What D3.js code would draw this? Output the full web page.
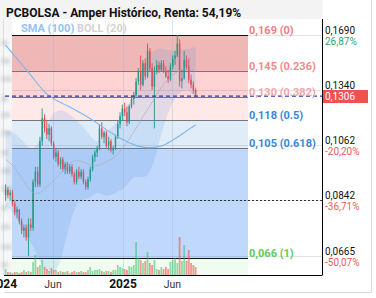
<!DOCTYPE html>
<html>
<head>
<meta charset="utf-8">
<script src="https://cdn.jsdelivr.net/npm/d3@7"></script>
<style>
  body { margin: 0; background: #fff; }
  svg { display: block; font-family: Roboto, "DejaVu Sans", sans-serif; }
</style>
</head>
<body>
<div id="chart"></div>
<script>
var svgWidth = 376;
var svgHeight = 298;

// weekly candles, Jan 2024 -> Aug 2025
var weeks = d3.timeMonday.range(new Date(2024, 0, 8), new Date(2025, 7, 12));

var opens = [0.086,0.088,0.086,0.087,0.083,0.080,0.081,0.077,0.074,0.075,0.072,0.076,0.075,0.091,0.095,0.090,0.108,0.119,0.114,0.111,
  0.114,0.107,0.101,0.103,0.098,0.100,0.096,0.098,0.095,0.097,0.094,0.091,0.095,0.093,0.095,0.091,0.089,0.092,0.096,0.101,
  0.103,0.105,0.114,0.110,0.112,0.106,0.108,0.104,0.105,0.110,0.116,0.120,0.124,0.122,0.117,0.125,0.129,0.131,0.139,0.145,
  0.137,0.150,0.142,0.158,0.147,0.136,0.145,0.149,0.146,0.150,0.145,0.142,0.140,0.148,0.153,0.155,0.163,0.139,0.141,0.152,
  0.148,0.140,0.137,0.134];
var highs = [0.090,0.089,0.088,0.088,0.084,0.082,0.081,0.078,0.076,0.076,0.078,0.078,0.092,0.097,0.097,0.110,0.124,0.121,0.118,0.116,
  0.115,0.108,0.105,0.104,0.101,0.101,0.099,0.099,0.098,0.098,0.095,0.096,0.097,0.096,0.096,0.092,0.093,0.097,0.102,0.104,
  0.106,0.116,0.117,0.113,0.113,0.110,0.109,0.106,0.111,0.118,0.122,0.126,0.127,0.125,0.126,0.131,0.133,0.141,0.147,0.155,
  0.152,0.153,0.163,0.160,0.150,0.148,0.152,0.151,0.152,0.152,0.148,0.146,0.150,0.155,0.158,0.169,0.166,0.146,0.158,0.155,
  0.153,0.143,0.139,0.135];
var lows = [0.084,0.085,0.084,0.082,0.079,0.078,0.076,0.073,0.072,0.071,0.0665,0.074,0.074,0.089,0.089,0.089,0.106,0.112,0.109,0.108,
  0.106,0.100,0.099,0.097,0.096,0.095,0.094,0.094,0.094,0.093,0.090,0.090,0.092,0.092,0.090,0.088,0.088,0.091,0.095,0.099,
  0.101,0.104,0.109,0.107,0.105,0.104,0.103,0.102,0.104,0.109,0.114,0.118,0.120,0.115,0.116,0.124,0.126,0.130,0.137,0.134,
  0.136,0.140,0.141,0.145,0.134,0.114,0.143,0.144,0.145,0.144,0.141,0.138,0.139,0.146,0.149,0.154,0.136,0.135,0.140,0.146,
  0.138,0.135,0.132,0.130];
var closes = [0.088,0.086,0.087,0.083,0.080,0.081,0.077,0.074,0.075,0.072,0.076,0.075,0.091,0.095,0.090,0.108,0.119,0.114,0.111,0.114,
  0.107,0.101,0.103,0.098,0.100,0.096,0.098,0.095,0.097,0.094,0.091,0.095,0.093,0.095,0.091,0.089,0.092,0.096,0.101,0.103,
  0.105,0.114,0.110,0.112,0.106,0.108,0.104,0.105,0.110,0.116,0.120,0.124,0.122,0.117,0.125,0.129,0.131,0.139,0.145,0.137,
  0.150,0.142,0.158,0.147,0.136,0.145,0.149,0.146,0.150,0.145,0.142,0.140,0.148,0.153,0.155,0.163,0.139,0.141,0.152,0.148,
  0.140,0.137,0.134,0.1306];
var volumes = [6,3,3,2,3,3,2,3,5,3,4,3,13,20,8,10,15,8,6,4,
  7,5,5,3,4,3,3,4,2,3,4,3,3,4,3,3,5,8,4,5,
  5,6,4,3,4,4,3,5,5,10,8,7,6,5,9,8,10,33,17,15,
  12,14,23,12,10,15,6,5,8,6,8,6,13,15,17,12,38,14,30,14,
  25,12,10,8];

// indicators read every 4 weeks
var indIdx = [0,4,8,12,16,20,24,28,32,36,40,44,48,52,56,60,64,68,72,76,80,83];
var smaValues = [0.162,0.1547,0.1477,0.141,0.134,0.1296,0.1271,0.1248,0.1222,0.1196,0.1166,0.1133,0.1106,0.1083,0.1063,0.1052,0.1050,0.1055,0.1079,0.1104,0.1136,0.1156];
var bollUpper = [0.113,0.112,0.108,0.102,0.112,0.121,0.124,0.121,0.117,0.112,0.106,0.113,0.115,0.124,0.130,0.148,0.159,0.160,0.158,0.159,0.159,0.161];
var bollMid   = [0.100,0.097,0.091,0.086,0.087,0.091,0.094,0.099,0.100,0.098,0.097,0.099,0.101,0.106,0.112,0.120,0.127,0.136,0.142,0.146,0.147,0.145];
var bollLower = [0.082,0.080,0.073,0.070,0.063,0.061,0.064,0.077,0.085,0.084,0.088,0.085,0.087,0.088,0.094,0.092,0.095,0.112,0.126,0.133,0.135,0.129];

// fibonacci retracement
var fibValues = [0.169, 0.145, 0.130, 0.118, 0.105, 0.066];
var fibRatios = ["0", "0.236", "0.382", "0.5", "0.618", "1"];
var fibZoneColors = ["#f0b7b7", "#fdd3d3", "#ffe8e8", "#e1ecf9", "#c0d8fb"];
var fibTextColors = ["#f07e7e", "#f3898a", "#f5a6a6", "#3b86d9", "#3b86d9", "#5ccc5c"];

// right axis
var axisValues = [0.1690, 0.1340, 0.1062, 0.0842, 0.0665];
var axisPct = ["26,87%", "", "-20,20%", "-36,71%", "-50,07%"];
var lastPrice = 0.1306;
var dottedLevel = 0.0842;

var monthTicks = [new Date(2024, 0, 1), new Date(2024, 5, 1), new Date(2025, 0, 1), new Date(2025, 5, 1)];
var monthLabels = ["2024", "Jun", "2025", "Jun"];
var monthBold = [true, false, true, false];

var locale = d3.formatLocale({decimal: ",", thousands: ".", grouping: [3], currency: ["", "€"]});
var fmt4 = locale.format(".4f");
var fmt3 = locale.format(".3f");

var plotLeft = 12, fibRight = 248, axisX = 322.5, plotTop = 19, plotBottom = 275;

var svg = d3.select("#chart").append("svg")
  .attr("width", svgWidth)
  .attr("height", svgHeight);

var defs = svg.append("defs");
defs.append("filter").attr("id", "blur")
  .append("feGaussianBlur").attr("stdDeviation", 1.4);

var x = d3.scaleTime()
  .domain([new Date(2024, 0, 1), new Date(2025, 5, 1)])
  .range([3.3, 172.4]);
var y = d3.scaleLog()
  .domain([0.066, 0.169])
  .range([258, 35]);
var yVol = d3.scaleLinear().domain([0, 40]).range([plotBottom, plotBottom - 40]);

// frame + title bar
svg.append("rect").attr("x", 0).attr("y", 0).attr("width", axisX).attr("height", plotTop).attr("fill", "#f3f3f3");
svg.append("line").attr("x1", 371.5).attr("x2", 371.5).attr("y1", 0).attr("y2", 292.5).attr("stroke", "#dcdcdc");
svg.append("line").attr("x1", 4).attr("x2", 371.5).attr("y1", 292.5).attr("y2", 292.5).attr("stroke", "#dcdcdc");

// blurred left strip
svg.append("rect").attr("x", 0).attr("y", plotTop).attr("width", plotLeft).attr("height", plotBottom - plotTop).attr("fill", "#f6f6f6");
var stripY = [40, 58, 76, 96, 112, 130, 150, 168, 186, 205, 224, 244, 262];
svg.append("g").attr("filter", "url(#blur)")
  .selectAll("rect").data(stripY).enter().append("rect")
  .attr("x", 1).attr("y", d => d).attr("width", (d, i) => 7 + (i % 3) * 2).attr("height", 6)
  .attr("fill", "#dedede");

// fib zones
var zones = [];
for (var i = 0; i < fibValues.length - 1; i++) {
  zones.push({top: fibValues[i], bottom: fibValues[i + 1], color: fibZoneColors[i]});
}
svg.append("g").selectAll("rect").data(zones).enter().append("rect")
  .attr("x", plotLeft).attr("width", fibRight - plotLeft)
  .attr("y", d => y(d.top)).attr("height", d => y(d.bottom) - y(d.top))
  .attr("fill", d => d.color);
svg.append("rect").attr("x", plotLeft).attr("width", fibRight - plotLeft)
  .attr("y", y(0.066)).attr("height", plotBottom - y(0.066)).attr("fill", "#effcef");

// vertical grid
svg.append("g").selectAll("line").data(monthTicks).enter().append("line")
  .attr("x1", d => Math.round(x(d)) + 0.5).attr("x2", d => Math.round(x(d)) + 0.5)
  .attr("y1", plotTop).attr("y2", plotBottom)
  .attr("stroke", "#9fb4cc").attr("stroke-opacity", 0.35);

// horizontal grid at axis ticks
svg.append("g").selectAll("line").data(axisValues).enter().append("line")
  .attr("x1", plotLeft).attr("x2", axisX)
  .attr("y1", d => Math.round(y(d)) + 0.5).attr("y2", d => Math.round(y(d)) + 0.5)
  .attr("stroke", "#000").attr("stroke-opacity", 0.1);

// fib lines
svg.append("g").selectAll("line").data(fibValues).enter().append("line")
  .attr("x1", plotLeft).attr("x2", fibRight)
  .attr("y1", d => Math.round(y(d)) + 0.5).attr("y2", d => Math.round(y(d)) + 0.5)
  .attr("stroke", (d, i) => (i === 0 || i === fibValues.length - 1) ? "#111" : "#777");

// volume
var candles = weeks.map((d, i) => ({date: d, o: opens[i], h: highs[i], l: lows[i], c: closes[i], v: volumes[i]}));
svg.append("g").selectAll("rect").data(candles).enter().append("rect")
  .attr("x", d => x(d.date) - 0.9).attr("width", 1.8)
  .attr("y", d => yVol(d.v)).attr("height", d => plotBottom - yVol(d.v))
  .attr("fill", d => d.c >= d.o ? "rgba(38,190,100,0.5)" : "rgba(239,83,80,0.6)");

// candles
var candleG = svg.append("g").selectAll("g").data(candles).enter().append("g");
candleG.append("line")
  .attr("x1", d => x(d.date)).attr("x2", d => x(d.date))
  .attr("y1", d => y(d.h)).attr("y2", d => y(d.l))
  .attr("stroke", d => d.c >= d.o ? "#1f9a78" : "#f04545").attr("stroke-width", 0.9);
candleG.append("rect")
  .attr("x", d => x(d.date) - 0.7).attr("width", 1.4)
  .attr("y", d => y(Math.max(d.o, d.c)))
  .attr("height", d => Math.max(1, Math.abs(y(d.o) - y(d.c))))
  .attr("fill", d => d.c >= d.o ? "#1f9a78" : "#f04545");

// bollinger band on top
var bandPts = indIdx.map((k, i) => ({date: weeks[k], up: bollUpper[i], mid: bollMid[i], lo: bollLower[i], sma: smaValues[i]}));
svg.append("path").datum(bandPts)
  .attr("d", d3.area().curve(d3.curveBasis).x(d => x(d.date)).y0(d => y(d.lo)).y1(d => y(d.up)))
  .attr("fill", "rgb(60,140,230)").attr("fill-opacity", 0.15);
svg.append("path").datum(bandPts)
  .attr("d", d3.line().curve(d3.curveBasis).x(d => x(d.date)).y(d => y(d.mid)))
  .attr("fill", "none").attr("stroke", "#b0a8a8").attr("stroke-opacity", 0.6);
svg.append("path").datum(bandPts)
  .attr("d", d3.line().curve(d3.curveBasis).x(d => x(d.date)).y(d => y(d.sma)))
  .attr("fill", "none").attr("stroke", "#7ab8ef").attr("stroke-width", 1.1);

// price lines
svg.append("line").attr("x1", 5).attr("x2", axisX)
  .attr("y1", y(lastPrice)).attr("y2", y(lastPrice))
  .attr("stroke", "#3333b8").attr("stroke-width", 1.4).attr("stroke-dasharray", "4,3");
svg.append("line").attr("x1", plotLeft).attr("x2", axisX)
  .attr("y1", Math.round(y(dottedLevel)) + 0.5).attr("y2", Math.round(y(dottedLevel)) + 0.5)
  .attr("stroke", "#333").attr("stroke-dasharray", "2,2");

// fib labels
svg.append("g").selectAll("text").data(fibValues).enter().append("text")
  .attr("x", 249).attr("y", d => Math.round(y(d)) - 1.5)
  .attr("font-size", "11px").attr("font-weight", "bold")
  .attr("fill", (d, i) => fibTextColors[i])
  .text((d, i) => fmt3(d) + " (" + fibRatios[i] + ")");

// axes
svg.append("line").attr("x1", axisX).attr("x2", axisX).attr("y1", plotTop).attr("y2", plotBottom).attr("stroke", "#000");
svg.append("line").attr("x1", 4).attr("x2", axisX).attr("y1", plotBottom + 0.5).attr("y2", plotBottom + 0.5).attr("stroke", "#000");

var axisG = svg.append("g");
axisG.selectAll("text.val").data(axisValues).enter().append("text").attr("class", "val")
  .attr("x", 325).attr("y", d => Math.round(y(d)) - 1)
  .attr("font-size", "10px").attr("fill", "#111")
  .text(d => fmt4(d));
axisG.selectAll("text.pct").data(axisValues).enter().append("text").attr("class", "pct")
  .attr("x", 325).attr("y", d => Math.round(y(d)) + 10)
  .attr("font-size", "10px")
  .attr("fill", (d, i) => axisPct[i].charAt(0) === "-" ? "#f05a5a" : "#2aa57a")
  .text((d, i) => axisPct[i]);

svg.append("rect").attr("x", 323).attr("y", Math.round(y(lastPrice)) - 6).attr("width", 45).attr("height", 13).attr("fill", "#f0524f");
svg.append("text").attr("x", 325).attr("y", Math.round(y(lastPrice)) + 4)
  .attr("font-size", "10px").attr("fill", "#fff").text(fmt4(lastPrice));

// x labels
svg.append("g").selectAll("text").data(monthTicks).enter().append("text")
  .attr("x", d => x(d)).attr("y", 288)
  .attr("text-anchor", "middle")
  .attr("font-size", (d, i) => monthBold[i] ? "12px" : "10.5px")
  .attr("font-weight", (d, i) => monthBold[i] ? "bold" : "normal")
  .attr("fill", (d, i) => monthBold[i] ? "#111" : "#333")
  .text((d, i) => monthLabels[i]);

// title + legend
svg.append("text").attr("x", 6).attr("y", 16.5)
  .attr("font-size", "12px").attr("font-weight", "bold").attr("fill", "#111")
  .text("PCBOLSA - Amper Histórico, Renta: 54,19%");
svg.append("text").attr("x", 21).attr("y", 32)
  .attr("font-size", "11px").attr("font-weight", "bold").attr("fill", "#8ec5f3")
  .text("SMA (100)");
svg.append("text").attr("x", 77).attr("y", 32)
  .attr("font-size", "11px").attr("font-weight", "bold").attr("fill", "#d2d2d2")
  .text("BOLL (20)");
</script>
</body>
</html>
